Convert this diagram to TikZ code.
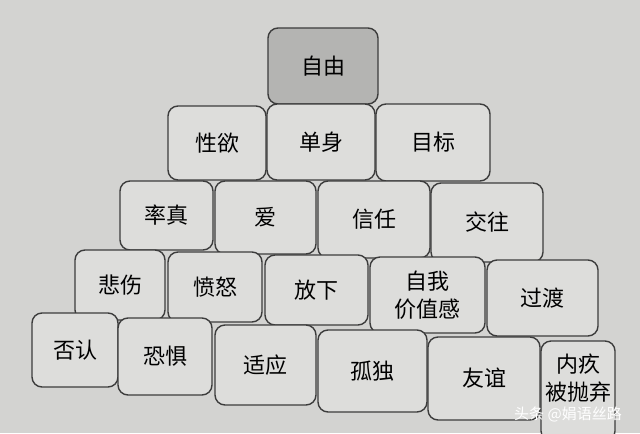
\documentclass[tikz,border=0pt]{standalone}
\usepackage{fontspec}
\setmainfont{Noto Sans CJK SC}
\definecolor{paper}{RGB}{211,211,209}
\definecolor{boxfill}{RGB}{221,221,219}
\definecolor{topfill}{RGB}{180,180,178}
\definecolor{edge}{RGB}{60,60,60}

\begin{document}
\begin{tikzpicture}[x=0.5pt,y=-0.5pt,
    blk/.style={draw=edge, fill=boxfill, rounded corners=5pt, line width=0.7pt,
      inner sep=0pt, align=center, font=\fontsize{11}{14}\selectfont}]
    \useasboundingbox (0,0) rectangle (640,433);
    \fill[paper] (0,0) rectangle (640,433);
    \clip (0,0) rectangle (640,433);
    % top
    \node[blk, fill=topfill, minimum width=55pt, minimum height=38pt] (ziyou) at (323,66) {自由};
    % second row
    \node[blk, minimum width=49pt, minimum height=37pt] (xingyu) at (217,143) {性欲};
    \node[blk, minimum width=54pt, minimum height=38pt] (danshen) at (321,142) {单身};
    \node[blk, minimum width=57pt, minimum height=38.5pt] (mubiao) at (433,142.5) {目标};
    % third row
    \node[blk, minimum width=46.5pt, minimum height=34.5pt] (shuaizhen) at (166.5,215.5) {率真};
    \node[blk, minimum width=50.5pt, minimum height=36.5pt] (ai) at (265.5,217.5) {爱};
    \node[blk, minimum width=56pt, minimum height=38.5pt] (xinren) at (374,219.5) {信任};
    \node[blk, minimum width=56pt, minimum height=39.5pt] (jiaowang) at (487,222.5) {交往};
    % fourth row
    \node[blk, minimum width=45pt, minimum height=35pt] (beishang) at (120,285) {悲伤};
    \node[blk, minimum width=47pt, minimum height=35pt] (fennu) at (215,287) {愤怒};
    \node[blk, minimum width=51.5pt, minimum height=35pt] (fangxia) at (316.5,290) {放下};
    \node[blk, minimum width=57.5pt, minimum height=38pt] (jiazhi) at (427.5,295) {自我\\价值感};
    \node[blk, minimum width=55.5pt, minimum height=38pt] (guodu) at (542.5,298) {过渡};
    % bottom row
    \node[blk, minimum width=43pt, minimum height=37pt] (fouren) at (75,350) {否认};
    \node[blk, minimum width=47pt, minimum height=38.5pt] (kongju) at (165,356.5) {恐惧};
    \node[blk, minimum width=50.5pt, minimum height=40pt] (shiying) at (265.5,365) {适应};
    \node[blk, minimum width=54.5pt, minimum height=41pt] (gudu) at (372.5,371) {孤独};
    \node[blk, minimum width=56pt, minimum height=41.5pt] (youyi) at (484,378.5) {友谊};
    \node[blk, minimum width=37pt, minimum height=50pt, text depth=14pt] (neijiu) at (578,391) {内疚\\被抛弃};
    % watermark
    \node[text=white, font=\fontsize{7.5}{9}\selectfont] (mark) at (568,414) {头条 @娟语丝路};
\end{tikzpicture}
\end{document}
